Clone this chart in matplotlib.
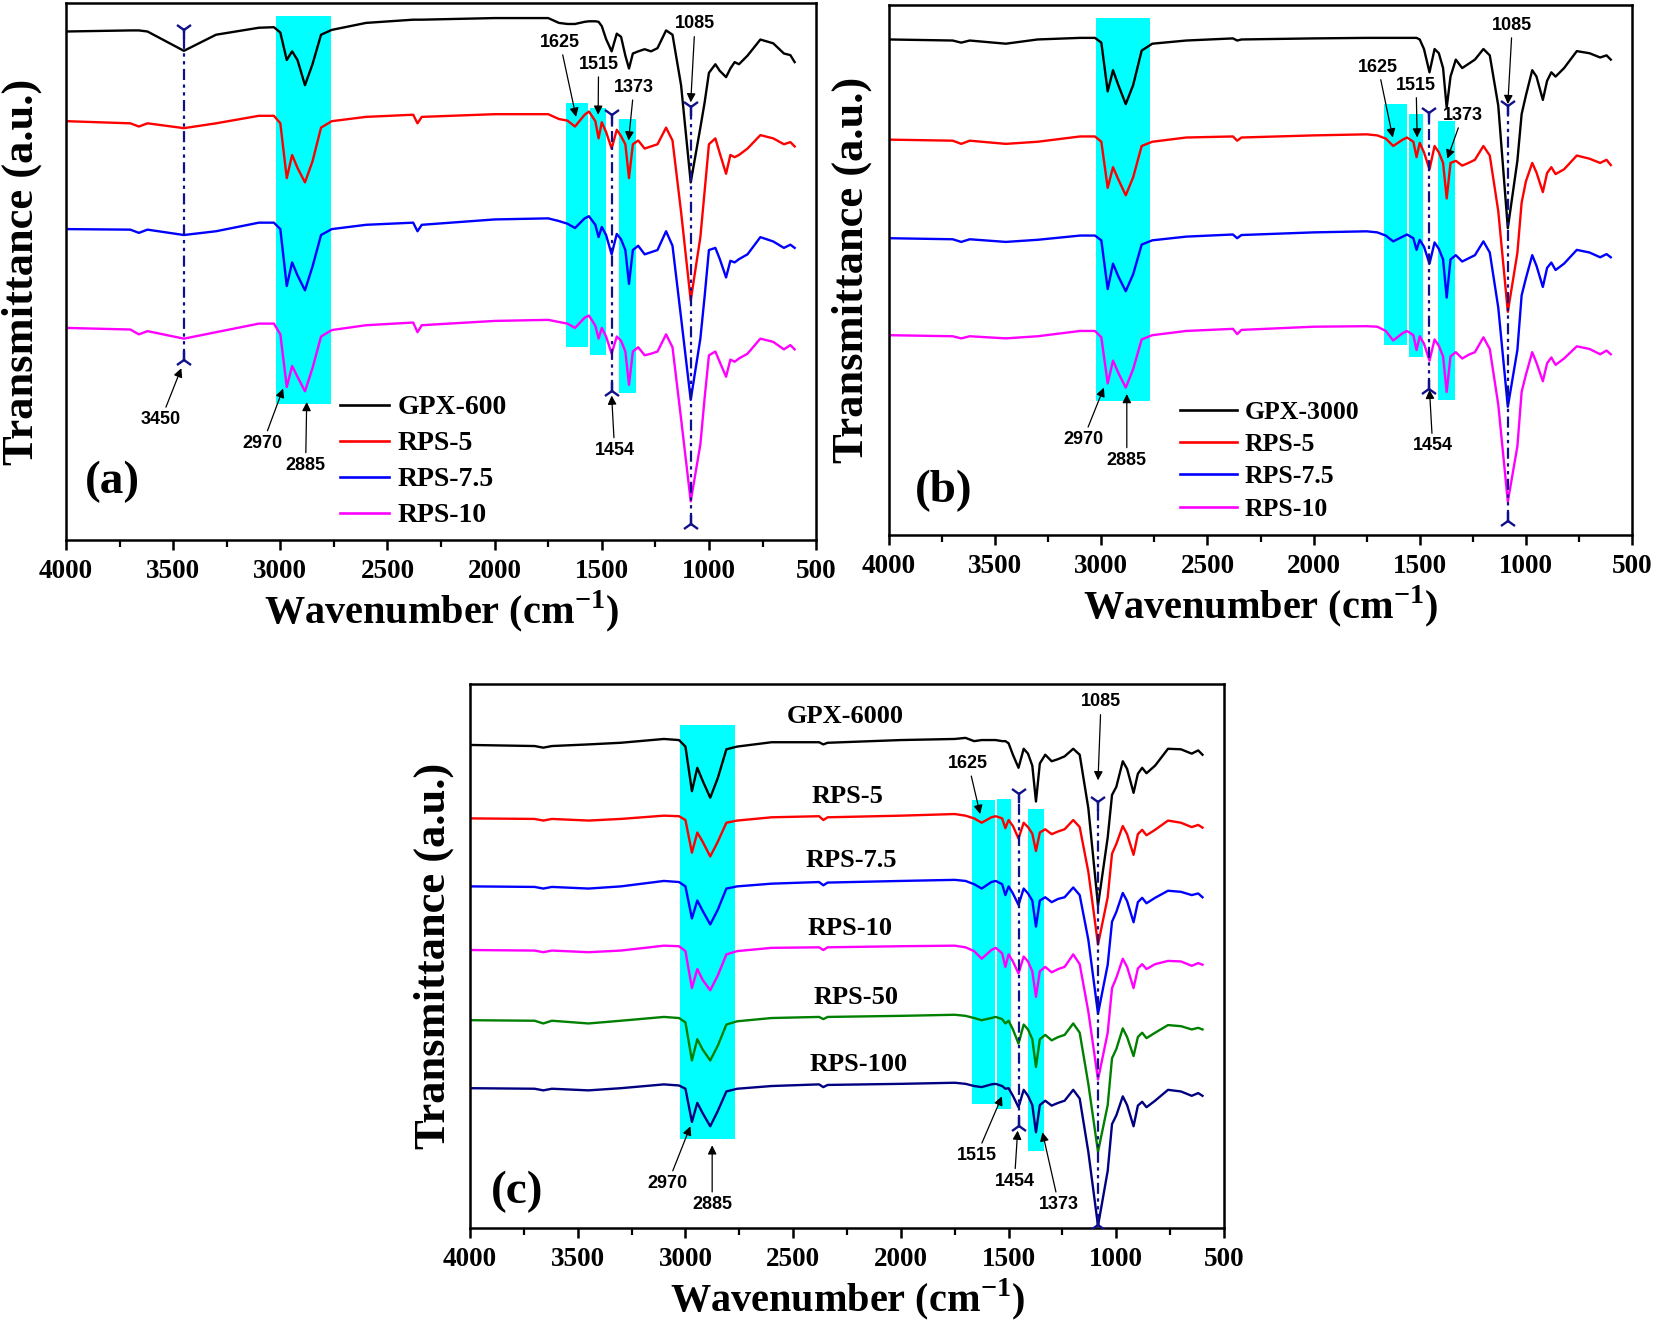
import matplotlib
matplotlib.use("Agg")
import matplotlib.pyplot as plt
from matplotlib.lines import Line2D

plt.rcParams["mathtext.fontset"] = "custom"
plt.rcParams["mathtext.rm"] = "Liberation Serif:bold"
plt.rcParams["mathtext.bf"] = "Liberation Serif:bold"

# wavenumber grid (cm-1) shared by all spectra
wn = [4000, 3700, 3660, 3620, 3450, 3300, 3100, 3030, 3000, 2970,
      2945, 2920, 2885, 2850, 2810, 2760, 2600, 2380, 2360, 2340,
      2000, 1750, 1700, 1660, 1625, 1580, 1560, 1530, 1515, 1500,
      1480, 1454, 1430, 1410, 1390, 1373, 1355, 1330, 1300, 1270,
      1240, 1200, 1170, 1130, 1085, 1040, 1020, 1000, 970, 950,
      920, 900, 880, 860, 820, 760, 700, 650, 620, 600]

# panel (a), transmittance in arbitrary units (0-100 of the frame)
a_gpx600 = [94.7, 94.9, 94.9, 94.7, 91.1, 94.1, 95.4, 95.5, 94.5, 89.4,
            91.0, 89.4, 84.7, 88.6, 94.1, 95.0, 96.3, 96.9, 96.9, 96.9,
            97.2, 97.2, 96.3, 96.1, 96.1, 96.5, 96.6, 96.6, 96.5, 95.7,
            93.3, 91.0, 94.3, 93.7, 90.2, 87.8, 90.6, 91.0, 91.4, 91.0,
            91.6, 94.9, 94.1, 84.7, 66.6, 76.8, 81.5, 87.0, 88.6, 87.4,
            86.2, 87.8, 89.0, 88.6, 90.2, 93.2, 92.5, 90.6, 90.3, 89.0]
a_rps5 = [78.0, 77.6, 77.0, 77.6, 76.7, 77.6, 79.0, 79.0, 77.6, 67.4,
          71.7, 69.3, 66.6, 70.5, 76.8, 78.0, 78.8, 79.2, 77.6, 78.8,
          79.3, 79.3, 78.4, 78.1, 77.0, 79.2, 79.8, 78.0, 74.8, 77.8,
          76.0, 72.9, 76.4, 75.2, 73.7, 67.4, 73.7, 74.4, 72.9, 73.3,
          73.7, 76.8, 74.4, 61.1, 44.6, 56.4, 65.0, 73.7, 74.8, 72.1,
          68.2, 71.7, 71.3, 71.7, 72.9, 75.4, 74.8, 73.7, 74.1, 73.3]
a_rps75 = [57.9, 57.8, 57.2, 57.8, 56.8, 57.5, 59.1, 59.1, 57.9, 47.3,
           51.7, 49.3, 46.5, 50.9, 56.8, 57.9, 58.7, 59.1, 57.5, 58.7,
           59.7, 59.9, 59.4, 58.9, 58.1, 59.9, 60.3, 58.7, 56.4, 58.3,
           56.8, 53.2, 57.0, 56.0, 54.0, 47.7, 54.0, 54.8, 53.2, 53.6,
           54.0, 57.5, 54.8, 41.4, 26.1, 37.5, 45.4, 54.0, 54.4, 52.4,
           48.9, 52.0, 51.7, 52.3, 53.2, 56.4, 55.6, 54.4, 55.0, 54.4]
a_rps10 = [39.5, 39.2, 38.3, 38.9, 37.5, 38.7, 40.3, 40.3, 38.3, 28.5,
           32.4, 30.4, 27.7, 32.0, 37.9, 39.1, 40.0, 40.5, 38.7, 40.0,
           40.8, 41.0, 40.6, 40.3, 39.5, 41.4, 41.8, 39.9, 37.5, 39.5,
           37.9, 34.7, 37.9, 37.1, 35.1, 28.9, 35.1, 35.9, 34.4, 34.7,
           35.1, 38.3, 35.9, 22.6, 7.2, 17.8, 26.5, 34.4, 35.1, 33.2,
           30.4, 33.6, 33.2, 33.8, 34.7, 37.5, 36.9, 35.5, 36.3, 35.5]

# panel (b)
b_gpx3000 = [93.5, 93.3, 92.9, 93.3, 92.7, 93.5, 93.8, 93.8, 92.9, 83.7,
             87.7, 84.9, 81.3, 84.9, 91.4, 92.7, 93.3, 93.7, 93.3, 93.5,
             93.7, 93.8, 93.8, 93.8, 93.8, 93.8, 93.8, 93.8, 93.8, 93.5,
             91.7, 87.3, 91.7, 90.9, 88.1, 80.6, 86.5, 89.7, 88.1, 88.9,
             89.7, 91.7, 90.5, 81.0, 57.9, 70.6, 79.4, 82.9, 87.7, 86.5,
             82.1, 85.7, 87.3, 86.5, 88.1, 91.3, 90.9, 90.1, 90.5, 89.7]
b_rps5 = [74.6, 74.4, 73.8, 74.4, 73.8, 74.2, 75.2, 75.2, 74.2, 65.5,
          69.4, 67.1, 64.1, 67.5, 73.4, 74.2, 75.0, 75.2, 74.4, 75.0,
          75.4, 75.6, 75.4, 74.8, 73.4, 74.6, 75.0, 74.2, 71.3, 74.0,
          72.2, 69.0, 73.4, 72.2, 70.2, 63.5, 70.2, 70.6, 69.7, 70.2,
          70.8, 73.4, 71.6, 61.1, 42.1, 53.2, 62.7, 66.7, 70.2, 68.4,
          64.7, 68.3, 69.4, 68.1, 69.0, 71.6, 71.0, 70.2, 70.8, 69.8]
b_rps75 = [56.0, 55.8, 55.3, 55.8, 55.3, 55.7, 56.5, 56.5, 55.6, 46.4,
           51.2, 48.8, 46.0, 49.2, 54.8, 55.6, 56.3, 56.7, 56.0, 56.6,
           57.1, 57.3, 57.1, 56.5, 55.4, 56.3, 56.7, 56.0, 53.8, 55.7,
           54.4, 51.2, 55.2, 54.0, 52.0, 44.8, 52.0, 52.8, 51.6, 52.2,
           52.8, 55.4, 53.3, 42.9, 24.2, 34.9, 45.2, 48.4, 52.8, 50.8,
           46.8, 50.4, 51.4, 50.0, 51.2, 53.8, 53.3, 52.4, 53.0, 52.4]
b_rps10 = [37.7, 37.5, 37.1, 37.5, 37.1, 37.5, 38.5, 38.5, 37.3, 28.6,
           32.9, 30.6, 27.8, 31.3, 36.9, 37.7, 38.5, 38.9, 37.9, 38.7,
           39.3, 39.4, 39.3, 38.5, 36.7, 38.1, 38.5, 37.7, 34.9, 37.5,
           36.1, 32.9, 36.9, 35.7, 33.7, 27.0, 33.7, 34.5, 33.3, 34.0,
           34.5, 37.3, 35.1, 24.6, 6.3, 16.7, 27.0, 30.2, 34.5, 32.5,
           29.0, 32.4, 33.5, 32.1, 33.3, 35.6, 35.1, 34.1, 34.8, 34.1]

# panel (c)
c_gpx6000 = [88.8, 88.6, 88.3, 88.6, 88.9, 89.2, 89.9, 89.7, 88.5, 80.3,
             84.6, 82.2, 79.1, 82.7, 88.0, 88.5, 89.3, 89.3, 88.9, 89.2,
             89.7, 89.9, 90.1, 89.5, 89.7, 89.7, 89.7, 89.5, 89.5, 89.1,
             87.0, 84.6, 88.1, 87.2, 85.0, 78.4, 85.4, 87.0, 85.8, 86.2,
             86.7, 88.1, 87.0, 77.2, 59.3, 71.8, 79.6, 81.1, 85.8, 84.4,
             80.0, 83.5, 84.6, 83.6, 85.0, 88.1, 88.0, 87.2, 87.8, 87.0]
c_rps5 = [75.3, 75.2, 74.9, 75.2, 74.9, 75.2, 75.8, 75.7, 75.0, 69.0,
          72.7, 71.0, 68.3, 71.0, 74.5, 74.9, 75.5, 75.7, 75.0, 75.5,
          75.8, 76.1, 75.8, 75.3, 74.5, 75.5, 75.7, 75.3, 73.5, 75.0,
          73.9, 71.6, 74.5, 73.7, 72.5, 69.3, 72.7, 73.3, 72.4, 72.9,
          73.3, 75.0, 73.7, 65.5, 52.1, 60.8, 68.8, 70.6, 73.9, 72.4,
          68.6, 72.4, 73.2, 72.2, 73.2, 74.9, 74.5, 73.7, 74.1, 73.6]
c_rps75 = [62.8, 62.7, 62.4, 62.7, 62.4, 62.8, 63.8, 63.6, 62.8, 56.9,
           60.2, 58.3, 55.8, 58.5, 62.4, 62.8, 63.3, 63.6, 63.0, 63.5,
           63.8, 64.0, 63.8, 63.2, 62.4, 63.6, 63.8, 63.2, 61.2, 62.8,
           61.5, 59.4, 62.4, 61.5, 60.2, 55.4, 60.2, 60.8, 59.9, 60.5,
           60.8, 62.6, 61.2, 53.0, 39.4, 48.4, 56.3, 58.1, 61.6, 60.1,
           56.2, 59.9, 60.7, 59.7, 60.7, 62.0, 61.8, 61.2, 61.5, 60.8]
c_rps10 = [51.1, 51.0, 50.7, 51.0, 50.7, 51.0, 51.9, 51.8, 50.9, 44.1,
           47.6, 45.6, 43.7, 46.4, 50.3, 50.9, 51.5, 51.6, 51.1, 51.6,
           51.8, 51.9, 51.6, 50.9, 49.5, 51.1, 51.5, 50.5, 48.0, 50.3,
           49.0, 46.8, 49.9, 49.0, 47.2, 42.5, 47.2, 48.0, 47.0, 47.6,
           48.0, 50.3, 48.5, 39.8, 27.3, 35.9, 44.1, 46.0, 49.5, 48.0,
           44.1, 47.7, 48.5, 47.6, 48.5, 49.1, 49.0, 48.2, 48.7, 48.4]
c_rps50 = [38.2, 38.1, 37.6, 38.1, 37.6, 38.1, 38.8, 38.6, 37.8, 30.8,
           34.7, 32.8, 30.8, 33.5, 37.4, 38.0, 38.6, 38.8, 38.4, 38.8,
           39.0, 39.2, 39.0, 38.6, 38.2, 38.6, 38.8, 38.4, 37.6, 38.1,
           36.5, 33.9, 37.4, 36.5, 34.7, 29.6, 34.7, 35.5, 34.5, 35.1,
           35.5, 37.6, 35.9, 26.5, 14.0, 22.6, 31.2, 32.9, 36.7, 35.1,
           31.6, 35.1, 35.9, 34.9, 35.9, 37.3, 37.1, 36.5, 36.8, 36.5]
c_rps100 = [25.7, 25.6, 25.3, 25.6, 25.3, 25.7, 26.4, 26.2, 25.6, 19.5,
            23.0, 21.1, 18.7, 21.5, 25.1, 25.6, 26.1, 26.4, 25.9, 26.3,
            26.5, 26.7, 26.5, 26.1, 25.9, 26.4, 26.5, 26.1, 25.6, 25.7,
            24.3, 22.2, 25.4, 24.3, 22.6, 17.6, 22.6, 23.4, 22.5, 23.0,
            23.4, 25.4, 23.8, 14.0, 0.4, 10.5, 19.1, 20.7, 24.2, 22.6,
            18.7, 22.5, 23.2, 22.2, 23.4, 25.4, 25.1, 24.3, 24.8, 24.3]

# highlighted bands: (wn high, wn low, y bottom, y top)
a_bands = [(3020, 2765, 25.3, 97.5), (1669, 1563, 35.9, 81.4),
           (1554, 1481, 34.5, 80.5), (1419, 1341, 27.3, 78.4)]
b_bands = [(3025, 2770, 25.2, 97.5), (1667, 1561, 35.9, 81.3),
           (1551, 1483, 33.6, 79.4), (1414, 1333, 25.4, 78.2)]
c_bands = [(3027, 2768, 16.4, 92.4), (1669, 1564, 22.8, 78.6),
           (1556, 1488, 21.8, 78.8), (1411, 1335, 14.2, 77.1)]

# dash-dot guide lines: (wn, y bottom, y top)
a_guides = [(3450, 33.6, 94.9), (1454, 27.7, 79.2), (1085, 2.9, 80.7)]
b_guides = [(1454, 27.6, 79.6), (1085, 2.6, 81.0)]
c_guides = [(1454, 18.7, 79.7), (1085, 0.6, 78.4)]

# peak labels: (text, text wn, text y, arrow wn, arrow y)
a_peaks = [("3450", 3557, 22.4, 3462, 32.0), ("2970", 3082, 18.0, 2987, 28.2),
           ("2885", 2882, 13.9, 2877, 25.7), ("1625", 1695, 92.7, 1620, 78.8),
           ("1515", 1515, 88.6, 1517, 79.2), ("1373", 1350, 84.3, 1375, 74.4),
           ("1085", 1065, 96.1, 1085, 81.5), ("1454", 1440, 16.7, 1454, 26.9)]
b_peaks = [("2970", 3086, 18.0, 2988, 27.8), ("2885", 2880, 14.1, 2880, 26.6),
           ("1625", 1696, 88.3, 1627, 75.0), ("1515", 1517, 84.9, 1512, 75.0),
           ("1373", 1297, 79.2, 1370, 71.0), ("1085", 1064, 96.2, 1085, 81.3),
           ("1454", 1439, 16.8, 1454, 27.4)]
c_peaks = [("1085", 1071, 96.7, 1085, 82.3), ("1625", 1687, 85.4, 1632, 76.1),
           ("2970", 3082, 8.2, 2977, 18.7), ("2885", 2876, 4.3, 2876, 15.2),
           ("1515", 1649, 13.3, 1531, 24.2), ("1454", 1473, 8.6, 1458, 17.9),
           ("1373", 1267, 4.3, 1343, 17.6)]

a_names = ["GPX-600", "RPS-5", "RPS-7.5", "RPS-10"]
b_names = ["GPX-3000", "RPS-5", "RPS-7.5", "RPS-10"]
c_names = ["GPX-6000", "RPS-5", "RPS-7.5", "RPS-10", "RPS-50", "RPS-100"]
# name labels inside panel (c): (wn, y)
c_name_pos = [(2260, 94.1), (2248, 79.4), (2228, 67.6), (2235, 55.1),
              (2210, 42.4), (2197, 30.0)]

colors = ["#000000", "#ff0000", "#0000ff", "#ff00ff", "#008000", "#000080"]
navy = "#10108a"
serif = "Liberation Serif"
sans = "Liberation Sans"

fig = plt.figure(figsize=(16.55, 13.2), dpi=100)
ax_a = fig.add_axes([0.0399, 0.5909, 0.4532, 0.4068])
ax_b = fig.add_axes([0.5372, 0.5947, 0.4489, 0.4015])
ax_c = fig.add_axes([0.2840, 0.0697, 0.4556, 0.4121])


def setup(ax, tag, tag_wn, tag_y):
    ax.set_xlim(4000, 500)
    ax.set_ylim(0, 100)
    ax.set_yticks([])
    ax.set_xticks([4000, 3500, 3000, 2500, 2000, 1500, 1000, 500])
    ax.set_xticks(range(3750, 500, -500), minor=True)
    ax.tick_params(axis="x", which="major", direction="out", length=7, width=1.8, pad=7)
    ax.tick_params(axis="x", which="minor", direction="out", length=5, width=1.6)
    for lab in ax.get_xticklabels():
        lab.set_fontfamily(serif)
        lab.set_fontweight("bold")
        lab.set_fontsize(19.5)
    for sp in ax.spines.values():
        sp.set_linewidth(1.8)
    ax.set_xlabel("Wavenumber (cm$^{-1}$)", fontfamily=serif, fontweight="bold",
                  fontsize=29, labelpad=3)
    ax.set_ylabel("Transmittance (a.u.)", fontfamily=serif, fontweight="bold",
                  fontsize=32)
    ax.text(tag_wn, tag_y, tag, fontfamily=serif, fontweight="bold", fontsize=34,
            ha="center", va="center")


def draw(ax, spectra, bands, guides, peaks):
    for hi, lo, y0, y1 in bands:
        ax.fill_between([hi, lo], y0, y1, color="#00ffff", lw=0, zorder=0.5)
    for i, ys in enumerate(spectra):
        ax.plot(wn, ys, color=colors[i], lw=1.7, zorder=2)
    for x, y0, y1 in guides:
        ax.plot([x, x], [y0, y1], color=navy, lw=1.6, dashes=(5, 2, 1.5, 2, 1.5, 2), zorder=3)
        ax.plot([x], [y1], marker="1", color=navy, ms=13, mew=1.7, zorder=3)
        ax.plot([x], [y0], marker="2", color=navy, ms=13, mew=1.7, zorder=3)
    for txt, tx, ty, px, py in peaks:
        ax.annotate(txt, xy=(px, py), xytext=(tx, ty), ha="center", va="center",
                    fontfamily=sans, fontweight="bold", fontsize=13,
                    arrowprops=dict(arrowstyle="-|>", color="k", lw=0.9,
                                    mutation_scale=13, shrinkA=1, shrinkB=0),
                    zorder=4)


setup(ax_a, "(a)", 3782, 10.8)
draw(ax_a, [a_gpx600, a_rps5, a_rps75, a_rps10], a_bands, a_guides, a_peaks)
setup(ax_b, "(b)", 3743, 8.3)
draw(ax_b, [b_gpx3000, b_rps5, b_rps75, b_rps10], b_bands, b_guides, b_peaks)
setup(ax_c, "(c)", 3781, 6.6)
draw(ax_c, [c_gpx6000, c_rps5, c_rps75, c_rps10, c_rps50, c_rps100],
     c_bands, c_guides, c_peaks)

for ax, names, anchor, hl, fs, ls in [(ax_a, a_names, (0.365, 0.27), 1.78, 20, 0.38),
                                      (ax_b, b_names, (0.392, 0.253), 2.2, 18.5, 0.36)]:
    handles = [Line2D([], [], color=colors[i], lw=1.9) for i in range(len(names))]
    ax.legend(handles, names, loc="upper left", bbox_to_anchor=anchor, frameon=False,
              prop={"family": serif, "weight": "bold", "size": fs},
              handlelength=hl, handletextpad=0.3,
              labelspacing=ls, borderpad=0, borderaxespad=0)

for name, (x, y) in zip(c_names, c_name_pos):
    ax_c.text(x, y, name, fontfamily=serif, fontweight="bold", fontsize=19,
              ha="center", va="center")

ax_a.yaxis.set_label_coords(-0.032, 0.5)
ax_b.yaxis.set_label_coords(-0.023, 0.5)
ax_c.yaxis.set_label_coords(-0.021, 0.5)

fig.savefig("out.png", dpi=100)
